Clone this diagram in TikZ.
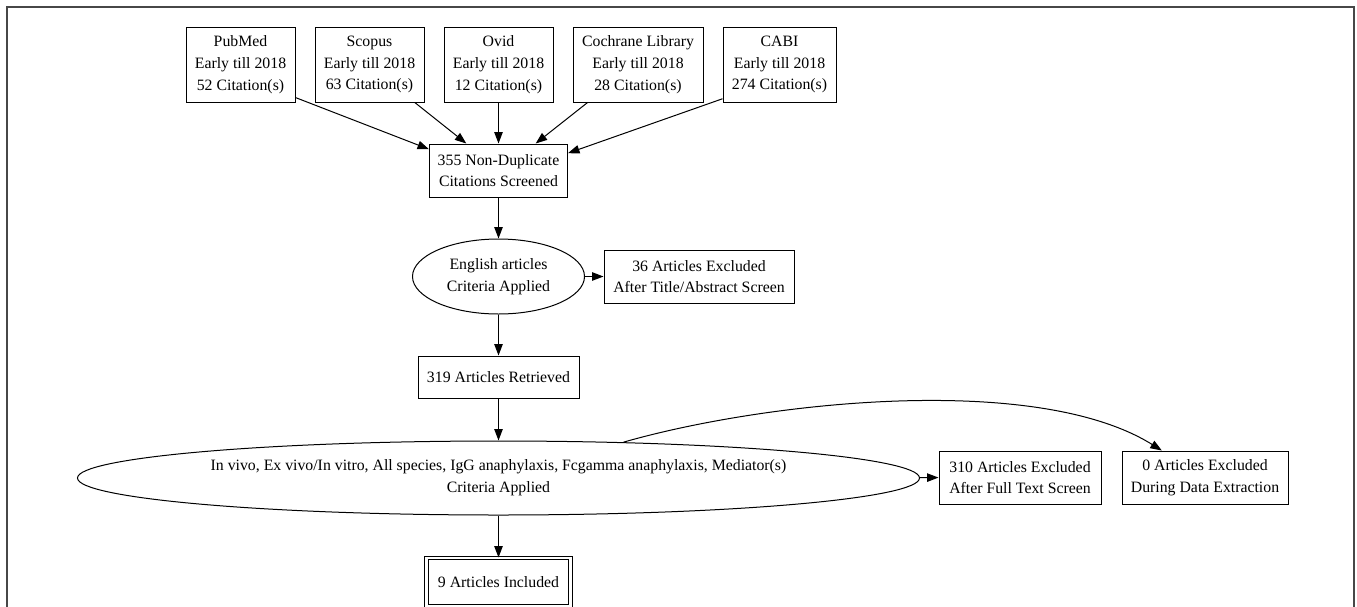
\documentclass[tikz,border=0pt]{standalone}
\usepackage{fontspec}
\setmainfont{Liberation Serif}
\usepackage{tikz}
\usetikzlibrary{arrows.meta,shapes,positioning,calc}

\tikzset{
  box/.style = {draw, rectangle, align = center, inner sep = 0pt, minimum height = 53pt},
  oval/.style = {draw, ellipse, align = center, inner sep = 0pt},
  arr/.style = {-{Triangle[length = 11.5pt, width = 8.5pt]}, line width = 1pt},
  frame/.style = {draw = black!72, line width = 2pt}
}

\begin{document}
\begin{tikzpicture}[x = 1pt, y = -1pt, line width = 1pt,
  every node/.style = {font = \fontsize{15.8}{21.8}\selectfont}]
\useasboundingbox (0,0) rectangle (1357,606);
\draw[frame] (6.5,620) -- (6.5,6.5) -- (1354,6.5) -- (1354,620);
% databases
\node[box, minimum width = 109pt, minimum height = 75pt] (pubmed) at (240.5,64.5) {PubMed\\Early till 2018\\52 Citation(s)};
\node[box, minimum width = 109pt, minimum height = 75pt] (scopus) at (369.5,64.5) {Scopus\\Early till 2018\\63 Citation(s)};
\node[box, minimum width = 109pt, minimum height = 75pt] (ovid) at (498.5,64.5) {Ovid\\Early till 2018\\12 Citation(s)};
\node[box, minimum width = 130pt, minimum height = 75pt] (cochrane) at (638,64.5) {Cochrane Library\\Early till 2018\\28 Citation(s)};
\node[box, minimum width = 113pt, minimum height = 75pt] (cabi) at (779.5,64.5) {CABI\\Early till 2018\\274 Citation(s)};
% screening
\node[box, minimum width = 138pt] (nondup) at (498.5,170.5) {355 Non-Duplicate\\Citations Screened};
\node[oval, minimum width = 172pt, minimum height = 75pt] (english) at (498.5,276.5) {English articles\\Criteria Applied};
\node[box, minimum width = 190pt] (titleex) at (699,276.5) {36 Articles Excluded\\After Title/Abstract Screen};
\node[box, minimum width = 161pt, minimum height = 42pt] (retrieved) at (498.5,377) {319 Articles Retrieved};
\node[oval, minimum width = 842pt, minimum height = 74pt] (crit) at (498.5,478) {In vivo, Ex vivo/In vitro, All species, IgG anaphylaxis, Fcgamma anaphylaxis, Mediator(s)\\Criteria Applied};
\node[box, minimum width = 162pt] (fullex) at (1020,477.5) {310 Articles Excluded\\After Full Text Screen};
\node[box, minimum width = 166pt] (dataex) at (1205,477.5) {0 Articles Excluded\\During Data Extraction};
\node[box, double, double distance = 2.6pt, minimum width = 144pt, minimum height = 48pt] (included) at (498.5,582) {9 Articles Included};
% edges
\draw[arr] (pubmed.-31) -- (nondup.163);
\draw[arr] (scopus.-40) -- (nondup.140);
\draw[arr] (ovid) -- (nondup);
\draw[arr] (cochrane.217) -- (nondup.36);
\draw[arr] (cabi.211) -- (nondup.14);
\draw[arr] (nondup) -- (english);
\draw[arr] (english) -- (titleex);
\draw[arr] (english) -- (retrieved);
\draw[arr] (retrieved) -- (crit);
\draw[arr] (crit) -- (fullex);
\draw[arr] (crit) -- (included);
\draw[arr] (crit) to[out = 16, in = 148, looseness = 0.7] (dataex);
\end{tikzpicture}
\end{document}
